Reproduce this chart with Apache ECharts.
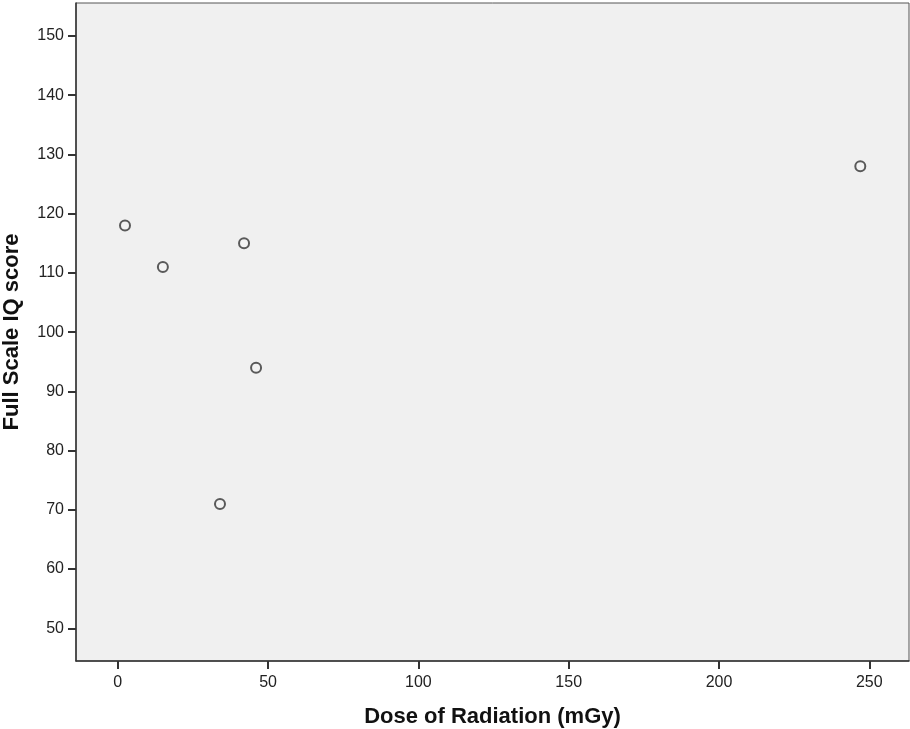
<!DOCTYPE html>
<html>
<head>
<meta charset="utf-8">
<script src="https://cdn.jsdelivr.net/npm/echarts@6/dist/echarts.min.js"></script>
<style>
  html, body { margin: 0; padding: 0; background: #fff; }
  #chart { width: 910px; height: 729px; }
</style>
</head>
<body>
<div id="chart"></div>
<script>
// Radiation dose (mGy) against Full Scale IQ score
const doseMGy = [2.4, 15, 34, 42, 46, 247];
const iqScore = [118, 111, 71, 115, 94, 128];
const xTicks = [0, 50, 100, 150, 200, 250];
const yTicks = [50, 60, 70, 80, 90, 100, 110, 120, 130, 140, 150];

const points = doseMGy.map((d, i) => [d, iqScore[i]]);
const font = '"Liberation Sans", Arial, sans-serif';

const chart = echarts.init(document.getElementById('chart'));
chart.setOption({
  animation: false,
  backgroundColor: '#ffffff',
  grid: {
    left: 76, top: 3, right: 1, bottom: 68,
    outerBoundsMode: 'none',
    containLabel: false,
    show: true,
    backgroundColor: '#f0f0f0',
    borderColor: '#555',
    borderWidth: 1
  },
  xAxis: {
    type: 'value',
    min: -13.9,
    max: 263.2,
    name: 'Dose of Radiation (mGy)',
    nameLocation: 'middle',
    nameGap: 45,
    nameTextStyle: { fontFamily: font, fontSize: 22, fontWeight: 'bold', color: '#111' },
    splitLine: { show: false },
    axisLine: { show: true, onZero: false, lineStyle: { color: '#333', width: 1.5 } },
    axisTick: { show: true, length: 8, customValues: xTicks, lineStyle: { color: '#333', width: 2 } },
    axisLabel: { customValues: xTicks, margin: 14, fontFamily: font, fontSize: 16, color: '#222' }
  },
  yAxis: {
    type: 'value',
    min: 44.48,
    max: 155.57,
    name: 'Full Scale IQ score',
    nameLocation: 'middle',
    nameGap: 53,
    nameTextStyle: { fontFamily: font, fontSize: 22, fontWeight: 'bold', color: '#111' },
    splitLine: { show: false },
    axisLine: { show: true, onZero: false, lineStyle: { color: '#333', width: 1.5 } },
    axisTick: { show: true, length: 8, customValues: yTicks, lineStyle: { color: '#333', width: 2 } },
    axisLabel: { customValues: yTicks, margin: 12, fontFamily: font, fontSize: 16, color: '#222' }
  },
  series: [{
    type: 'scatter',
    data: points,
    symbol: 'circle',
    symbolSize: 10,
    itemStyle: { color: '#f4f4f4', borderColor: '#333', borderWidth: 2 }
  }]
});
</script>
</body>
</html>
